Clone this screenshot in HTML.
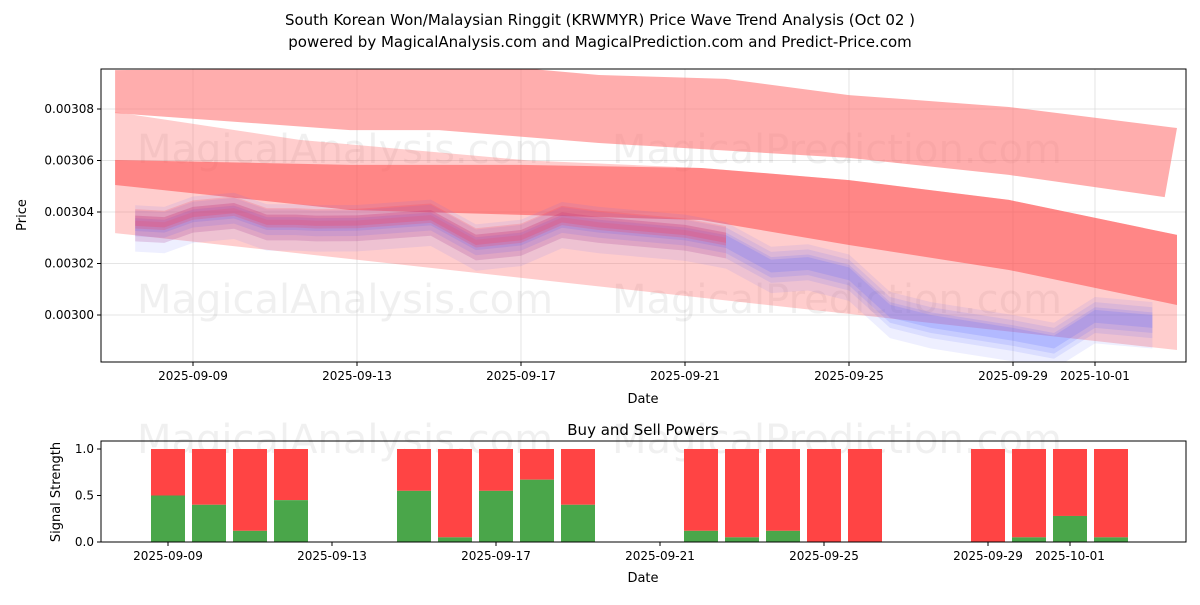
<!DOCTYPE html>
<html><head><meta charset="utf-8"><style>
body{margin:0;background:#fff;font-family:"Liberation Sans","DejaVu Sans",sans-serif;}
svg text{font-family:"DejaVu Sans","Liberation Sans",sans-serif;}
</style></head><body>
<svg id="c" width="1200" height="600" viewBox="0 0 1200 600" xmlns="http://www.w3.org/2000/svg">
<text x="600" y="25" text-anchor="middle" font-size="15">South Korean Won/Malaysian Ringgit (KRWMYR) Price Wave Trend Analysis (Oct 02 )</text>
<text x="600" y="47" text-anchor="middle" font-size="15">powered by MagicalAnalysis.com and MagicalPrediction.com and Predict-Price.com</text>
<g id="topg"></g><g id="botg"></g>
</svg>
<script>
// Top chart data (prices in units of 0.001)
const dateLabels=["2025-09-09","2025-09-13","2025-09-17","2025-09-21","2025-09-25","2025-09-29","2025-10-01"];
const dateTickDays=[0,4,8,12,16,20,22];
const priceTicks=[3.000,3.020,3.040,3.060,3.080];
const priceDays=[-1.41,-0.7,0,1,1.8,2.5,3,4,5.8,6.9,8,9,9.9,12,13,14.1,15,16,17,18,20,21,22,23.4];
const priceVals=[3.0356,3.035,3.039,3.0405,3.036,3.036,3.0356,3.0357,3.0378,3.0282,3.030,3.0369,3.035,3.032,3.029,3.0195,3.0205,3.0165,3.002,2.998,2.993,2.990,3.000,2.998];
const upperDays=[-1.9,8,9.9,13,16,19.9,24];
const upperTop=[3.0951,3.0959,3.0932,3.0917,3.0854,3.0808,3.0726];
const upperBotDays=[-1.9,3.83,6,9.9,16,19.9,23.7];
const upperBot=[3.0784,3.0718,3.0718,3.0668,3.0610,3.0544,3.0458];
const midDays=[-1.9,3.83,8,12.4,16,19.9,24];
const midTop=[3.0602,3.0583,3.0583,3.0571,3.0524,3.0447,3.0311];
const midBot=[3.0505,3.0408,3.0389,3.0369,3.0272,3.0175,3.0039];
const wideTopDays=[-1.9,2.6,8.2,12.4,16,19.9,24];
const wideTop=[3.0788,3.0680,3.0600,3.0571,3.0524,3.0447,3.0311];
const wideBotDays=[-1.9,24];
const wideBot=[3.0318,2.9864];
// Bottom chart data
const barDays=[0,1,2,3,6,7,8,9,10,13,14,15,16,17,20,21,22,23];
const buyVals=[0.5,0.4,0.12,0.45,0.55,0.05,0.55,0.67,0.4,0.12,0.05,0.12,0,0,0,0.05,0.28,0.05];
const sigTicks=[0,0.5,1.0];

const NS="http://www.w3.org/2000/svg";
function el(t,a,p){const e=document.createElementNS(NS,t);for(const k in a)e.setAttribute(k,a[k]);p.appendChild(e);return e;}
const gTop=document.getElementById('topg'),gBot=document.getElementById('botg');
const X=d=>193+d*41, Y=p=>109+(3.080-p)/0.02*51.5;
const XB=d=>168+d*41, YB=v=>542-v*93;
const L=101,R=1186,T=69,B=362;
const cp=el('clipPath',{id:'cp'},gTop);
el('rect',{x:L,y:T,width:R-L,height:B-T},cp);
priceTicks.forEach(p=>{const g=el('line',{x1:L,x2:R,y1:Y(p),y2:Y(p),stroke:'#ddd','stroke-width':0.8},gTop);

});
dateTickDays.forEach(d=>{const g=el('line',{x1:X(d),x2:X(d),y1:T,y2:B,stroke:'#ddd','stroke-width':0.8},gTop);

});
[[345,150],[837,150],[345,300],[837,300]].forEach((w,i)=>{const t=el('text',{x:w[0],y:w[1]+13,'text-anchor':'middle','font-size':40,fill:'#000','fill-opacity':0.06},gTop);
t.textContent=i%2?'MagicalPrediction.com':'MagicalAnalysis.com';

});
const g=el('g',{'clip-path':'url(#cp)'},gTop);
function band(dT,tv,dB,bv,fill,op,name){
 let pts=dT.map((d,i)=>X(d)+','+Y(tv[i]));
 pts=pts.concat(dB.map((d,i)=>X(d)+','+Y(bv[i])).reverse());
 const p=el('polygon',{points:pts.join(' '),fill:fill,'fill-opacity':op},g);
 
 }
band(wideTopDays,wideTop,wideBotDays,wideBot,'#ff6666',0.33,'forecast-wide-band');
band(upperDays,upperTop,upperBotDays,upperBot,'#ff7777',0.6,'forecast-upper-band');
band(midDays,midTop,midDays,midBot,'#ff4d4d',0.55,'forecast-mid-band');
[[0.007,-0.011,0.1],[0.005,-0.007,0.12],[0.003,-0.005,0.15],[0.002,-0.003,0.18]].forEach(o=>{
 band(priceDays,priceVals.map(v=>v+o[0]),priceDays,priceVals.map(v=>v+o[1]),'#5566ff',o[2],'price-blue-band');});
[[0.0055,-0.002,0.18],[0.003,-0.001,0.2],[0.001,-0.007,0.12]].forEach(o=>{
 band(priceDays.slice(0,15),priceVals.slice(0,15).map(v=>v+o[0]),priceDays.slice(0,15),priceVals.slice(0,15).map(v=>v+o[1]),'#ff3344',o[2],'price-red-band');});
const fr=el('rect',{x:L,y:T,width:R-L,height:B-T,fill:'none',stroke:'#000','stroke-width':1},gTop);


priceTicks.forEach(p=>{el('line',{x1:L-4,x2:L,y1:Y(p),y2:Y(p),stroke:'#000'},gTop);
 const t=el('text',{x:L-7,y:Y(p)+4,'text-anchor':'end','font-size':12},gTop);t.textContent=(p/1000).toFixed(5);
 
 });
dateTickDays.forEach((d,i)=>{el('line',{x1:X(d),x2:X(d),y1:B,y2:B+4,stroke:'#000'},gTop);
 const t=el('text',{x:X(d),y:B+18,'text-anchor':'middle','font-size':12},gTop);t.textContent=dateLabels[i];
 
 });
let tt=el('text',{x:643,y:403,'text-anchor':'middle','font-size':13},gTop);tt.textContent='Date';


tt=el('text',{x:26,y:215,'text-anchor':'middle','font-size':13,transform:'rotate(-90 26 215)'},gTop);tt.textContent='Price';


const BT=441,BB=542;
tt=el('text',{x:643,y:435,'text-anchor':'middle','font-size':15},gBot);tt.textContent='Buy and Sell Powers';


[[345,440],[837,440]].forEach((w,i)=>{const q=el('text',{x:w[0],y:w[1]+13,'text-anchor':'middle','font-size':40,fill:'#000','fill-opacity':0.06},gBot);
q.textContent=i?'MagicalPrediction.com':'MagicalAnalysis.com';

});
barDays.forEach((d,i)=>{const x=XB(d)-17;
 const s=el('rect',{x:x,y:YB(1),width:34,height:YB(buyVals[i])-YB(1),fill:'#ff4444'},gBot);
 
 
 const b=el('rect',{x:x,y:YB(buyVals[i]),width:34,height:YB(0)-YB(buyVals[i]),fill:'#4aa64a'},gBot);
 
 });
const fb=el('rect',{x:L,y:BT,width:R-L,height:BB-BT,fill:'none',stroke:'#000'},gBot);


sigTicks.forEach(v=>{el('line',{x1:L-4,x2:L,y1:YB(v),y2:YB(v),stroke:'#000'},gBot);
 const q=el('text',{x:L-7,y:YB(v)+4,'text-anchor':'end','font-size':12},gBot);q.textContent=v.toFixed(1);
 
 });
dateTickDays.forEach((d,i)=>{el('line',{x1:XB(d),x2:XB(d),y1:BB,y2:BB+4,stroke:'#000'},gBot);
 const q=el('text',{x:XB(d),y:BB+18,'text-anchor':'middle','font-size':12},gBot);q.textContent=dateLabels[i];
 
 });
tt=el('text',{x:643,y:582,'text-anchor':'middle','font-size':13},gBot);tt.textContent='Date';


tt=el('text',{x:60,y:492,'text-anchor':'middle','font-size':13,transform:'rotate(-90 60 492)'},gBot);tt.textContent='Signal Strength';


</script>
</body></html>
